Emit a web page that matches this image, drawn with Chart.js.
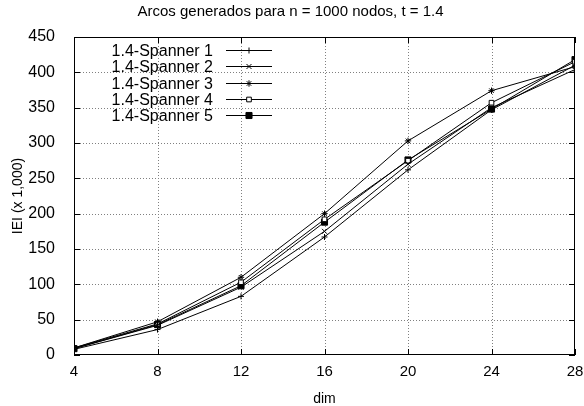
<!DOCTYPE html>
<html>
<head>
<meta charset="utf-8">
<script src="https://cdn.jsdelivr.net/npm/chart.js@4"></script>
<style>
html, body { margin: 0; padding: 0; background: #fff; }
#wrap { width: 584px; height: 406px; }
</style>
</head>
<body>
<div id="wrap"><canvas id="myChart" width="584" height="406"></canvas></div>
<script>
const dims = [4, 8, 12, 16, 20, 24, 28];
const yTicks = [0, 50, 100, 150, 200, 250, 300, 350, 400, 450];

const spanner1 = [8, 36, 83, 167, 262, 347, 410];
const spanner2 = [9, 42, 96, 175, 270, 350, 404];
const spanner3 = [10, 47, 110, 200, 303, 374, 408];
const spanner4 = [10, 44, 103, 192, 275, 357, 415];
const spanner5 = [9, 43, 98, 188, 276, 348, 418];

const names = ['1.4-Spanner 1', '1.4-Spanner 2', '1.4-Spanner 3', '1.4-Spanner 4', '1.4-Spanner 5'];
const series = [spanner1, spanner2, spanner3, spanner4, spanner5];
const styles = [
  { pointStyle: 'cross', radius: 3, bg: '#000' },
  { pointStyle: 'crossRot', radius: 3.5, bg: '#000' },
  { pointStyle: 'star', radius: 3.2, bg: '#000' },
  { pointStyle: 'rect', radius: 3.3, bg: '#fff' },
  { pointStyle: 'rect', radius: 4.3, bg: '#000' }
];

const FONT = '"Liberation Sans", Arial, Helvetica, sans-serif';

const datasets = series.map((s, i) => ({
  label: names[i],
  data: dims.map((d, j) => ({ x: d, y: s[j] })),
  borderColor: '#000',
  borderWidth: 1,
  backgroundColor: styles[i].bg,
  pointStyle: styles[i].pointStyle,
  pointRadius: styles[i].radius,
  pointBorderColor: '#000',
  pointBorderWidth: 1,
  pointBackgroundColor: styles[i].bg,
  fill: false,
  tension: 0
}));

// dotted grid drawn under the lines
const gridPlugin = {
  id: 'dotgrid',
  beforeDatasetsDraw(chart) {
    const { ctx, chartArea: a, scales } = chart;
    ctx.save();
    ctx.strokeStyle = '#808080';
    ctx.lineWidth = 1;
    ctx.setLineDash([1, 2]);
    ctx.beginPath();
    dims.slice(1, -1).forEach(d => {
      const x = Math.round(scales.x.getPixelForValue(d)) + 0.5;
      ctx.moveTo(x, a.top); ctx.lineTo(x, a.bottom);
    });
    yTicks.slice(1, -1).forEach(v => {
      const y = Math.round(scales.y.getPixelForValue(v)) + 0.5;
      ctx.moveTo(a.left, y); ctx.lineTo(a.right, y);
    });
    ctx.stroke();
    ctx.restore();
  }
};

// gnuplot-like frame with inward ticks
const framePlugin = {
  id: 'frame',
  afterDraw(chart) {
    const { ctx, chartArea: a, scales } = chart;
    ctx.save();
    ctx.strokeStyle = '#000';
    ctx.lineWidth = 1;
    ctx.strokeRect(a.left + 0.5, a.top + 0.5, a.right - a.left - 1, a.bottom - a.top - 1);
    ctx.beginPath();
    dims.forEach(d => {
      const x = Math.round(scales.x.getPixelForValue(d)) + 0.5;
      ctx.moveTo(x, a.bottom); ctx.lineTo(x, a.bottom - 6);
      ctx.moveTo(x, a.top); ctx.lineTo(x, a.top + 6);
    });
    yTicks.forEach(v => {
      const y = Math.round(scales.y.getPixelForValue(v)) + 0.5;
      ctx.moveTo(a.left, y); ctx.lineTo(a.left + 6, y);
      ctx.moveTo(a.right, y); ctx.lineTo(a.right - 6, y);
    });
    ctx.stroke();
    ctx.restore();
  }
};

// legend: text on the left, line sample on the right
const keyPlugin = {
  id: 'key',
  afterDraw(chart) {
    const ctx = chart.ctx;
    ctx.save();
    ctx.font = '16px ' + FONT;
    ctx.textAlign = 'right';
    ctx.textBaseline = 'middle';
    names.forEach((n, i) => {
      const y = Math.round(50 + i * 16.25) + 0.5;
      ctx.fillStyle = '#000';
      ctx.fillText(n, 213, y + 1);
      ctx.strokeStyle = '#000';
      ctx.lineWidth = 1;
      ctx.setLineDash([]);
      ctx.beginPath();
      ctx.moveTo(226, y);
      ctx.lineTo(272, y);
      ctx.stroke();
      ctx.fillStyle = styles[i].bg;
      Chart.helpers.drawPoint(ctx, {
        pointStyle: styles[i].pointStyle,
        radius: styles[i].radius,
        borderWidth: 1,
        rotation: 0
      }, 249, y);
    });
    ctx.restore();
  }
};

const config = {
  type: 'line',
  data: { datasets: datasets },
  options: {
    responsive: false,
    animation: false,
    layout: { padding: { left: 6, right: 9, top: 0, bottom: 0 } },
    plugins: {
      legend: { display: false },
      tooltip: { enabled: false },
      title: {
        display: true,
        text: 'Arcos generados para n = 1000 nodos, t = 1.4',
        color: '#000',
        font: { family: FONT, size: 15, weight: 'normal' },
        padding: { top: 3, bottom: 16 }
      }
    },
    scales: {
      x: {
        type: 'linear',
        min: 4,
        max: 28,
        afterBuildTicks: s => { s.ticks = dims.map(v => ({ value: v })); },
        afterFit: s => { s.height = 51; s.paddingLeft = 0; s.paddingRight = 0; },
        ticks: { color: '#000', font: { family: FONT, size: 15 }, padding: 0 },
        grid: { display: false },
        border: { display: false },
        title: { display: true, text: 'dim', color: '#000', font: { family: FONT, size: 14 }, padding: { top: 0, bottom: -2 } }
      },
      y: {
        min: 0,
        max: 450,
        afterBuildTicks: s => { s.ticks = yTicks.map(v => ({ value: v })); },
        afterFit: s => { s.width = 68; },
        ticks: { color: '#000', font: { family: FONT, size: 16 }, padding: 11 },
        grid: { display: false },
        border: { display: false },
        title: { display: true, text: 'IEI (x 1,000)', color: '#000', font: { family: FONT, size: 14 }, padding: { bottom: 4 } }
      }
    }
  },
  plugins: [gridPlugin, framePlugin, keyPlugin]
};

const myChart = new Chart(document.getElementById('myChart'), config);
</script>
</body>
</html>
